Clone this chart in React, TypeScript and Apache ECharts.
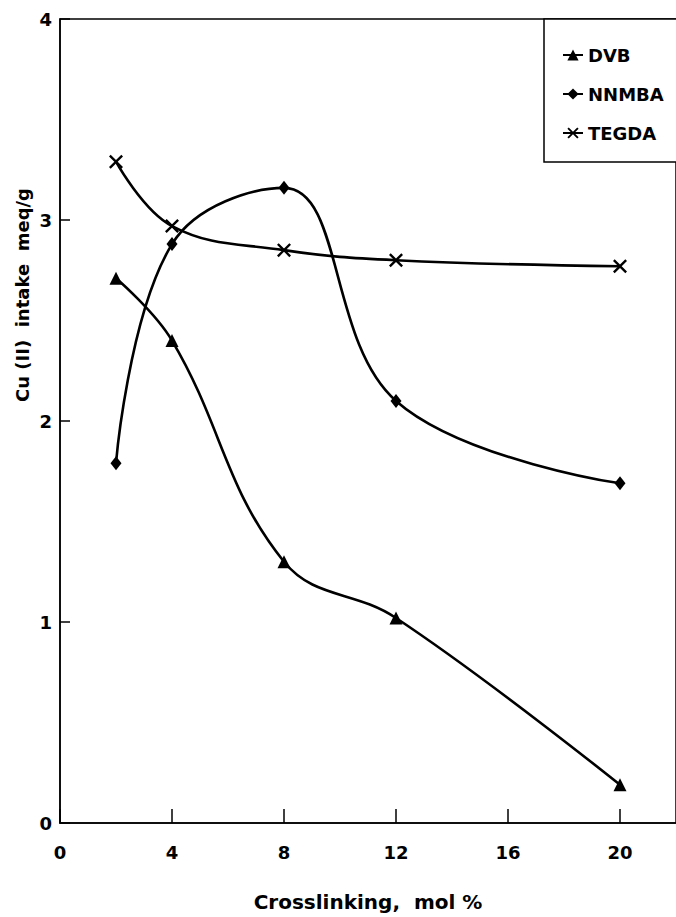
import React, { useEffect, useRef } from "react";
import * as echarts from "echarts";

const xValues = [2, 4, 8, 12, 20];
const dvb = [2.71, 2.4, 1.3, 1.02, 0.19];
const nnmba = [1.79, 2.88, 3.16, 2.1, 1.69];
const tegda = [3.29, 2.97, 2.85, 2.8, 2.77];
const seriesNames = ["DVB", "NNMBA", "TEGDA"];
const xTitle = "Crosslinking,  mol %";
const yTitle = "Cu (II)  intake  meq/g";

const FONT = "'DejaVu Sans', Verdana, sans-serif";
const X_PATH =
  "path://M0,1.2 L1.2,0 L5,3.8 L8.8,0 L10,1.2 L6.2,5 L10,8.8 L8.8,10 L5,6.2 L1.2,10 L0,8.8 L3.8,5 Z";

function pairs(ys: number[]) {
  return xValues.map((x, i) => [x, ys[i]]);
}

export default function App() {
  const ref = useRef<HTMLDivElement>(null);
  useEffect(() => {
    if (!ref.current) return;
    const chart = echarts.init(ref.current, undefined, { renderer: "svg" });
    const line = { color: "#000", width: 2.6 };
    chart.setOption({
      animation: false,
      backgroundColor: "#fff",
      textStyle: { fontFamily: FONT, color: "#000" },
      grid: {
        left: 60,
        top: 19,
        right: -7,
        bottom: 92,
        show: true,
        borderColor: "#000",
        borderWidth: 1.5,
      },
      legend: {
        data: seriesNames,
        orient: "vertical",
        left: 544,
        top: 19,
        itemWidth: 20,
        itemHeight: 14,
        itemGap: 21,
        padding: [27, 40, 20, 18],
        borderColor: "#000",
        borderWidth: 1.5,
        backgroundColor: "#fff",
        textStyle: { fontFamily: FONT, fontWeight: "bold", fontSize: 18, color: "#000" },
      },
      xAxis: {
        type: "value",
        min: 0,
        max: 22,
        interval: 4,
        name: xTitle,
        nameLocation: "middle",
        nameGap: 69,
        nameTextStyle: { fontFamily: FONT, fontWeight: "bold", fontSize: 20, color: "#000" },
        axisLine: { lineStyle: { color: "#000", width: 1.5 } },
        axisTick: { inside: true, length: 14, lineStyle: { color: "#000", width: 1.5 } },
        axisLabel: {
          showMaxLabel: false,
          margin: 20,
          fontFamily: FONT,
          fontWeight: "bold",
          fontSize: 18,
          color: "#000",
        },
        splitLine: { show: false },
      },
      yAxis: {
        type: "value",
        min: 0,
        max: 4,
        interval: 1,
        axisLine: { show: true, lineStyle: { color: "#000", width: 1.5 } },
        axisTick: { show: true, inside: true, length: 10, lineStyle: { color: "#000", width: 1.5 } },
        axisLabel: { margin: 8, fontFamily: FONT, fontWeight: "bold", fontSize: 18, color: "#000" },
        splitLine: { show: false },
      },
      graphic: [
        {
          type: "text",
          x: 22,
          y: 295,
          rotation: Math.PI / 2,
          style: {
            text: yTitle,
            fontFamily: FONT,
            fontWeight: "bold",
            fontSize: 18,
            fill: "#000",
            textAlign: "center",
            textVerticalAlign: "middle",
          },
        },
      ],
      series: [
        {
          name: seriesNames[0],
          type: "line",
          smooth: 0.4,
          data: pairs(dvb),
          symbol: "triangle",
          symbolSize: 13,
          itemStyle: { color: "#000" },
          lineStyle: line,
        },
        {
          name: seriesNames[1],
          type: "line",
          smooth: 0.4,
          data: pairs(nnmba),
          symbol: "diamond",
          symbolSize: [11, 14],
          itemStyle: { color: "#000" },
          lineStyle: line,
        },
        {
          name: seriesNames[2],
          type: "line",
          smooth: 0.4,
          data: pairs(tegda),
          symbol: X_PATH,
          symbolSize: 14,
          itemStyle: { color: "#000" },
          lineStyle: line,
        },
      ],
    });
    return () => chart.dispose();
  }, []);
  return (
    <div
      ref={ref}
      style={{ position: "fixed", left: 0, top: 0, width: 676, height: 917, background: "#fff" }}
    />
  );
}
